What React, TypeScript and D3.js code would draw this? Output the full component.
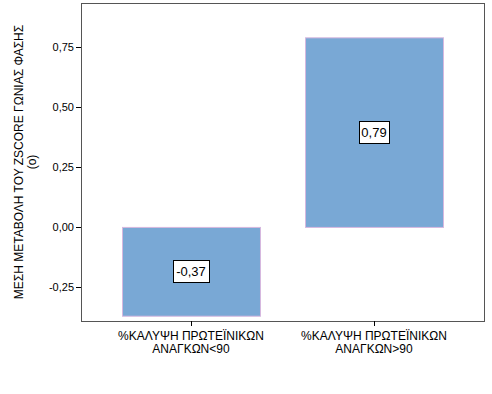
import React from "react";
import * as d3 from "d3";

const categories = ["%ΚΑΛΥΨΗ ΠΡΩΤΕΪΝΙΚΩΝ\nΑΝΑΓΚΩΝ<90", "%ΚΑΛΥΨΗ ΠΡΩΤΕΪΝΙΚΩΝ\nΑΝΑΓΚΩΝ>90"];
const values = [-0.37, 0.79];
const valueLabels = ["-0,37", "0,79"];
const yTicks = [-0.25, 0, 0.25, 0.5, 0.75];
const yTickLabels = ["-0,25", "0,00", "0,25", "0,50", "0,75"];
const yTitle = ["ΜΕΣΗ ΜΕΤΑΒΟΛΗ ΤΟΥ ZSCORE ΓΩΝΙΑΣ ΦΑΣΗΣ", "(o)"];

export default function App() {
  const W = 492, H = 394;
  const left = 81, right = 484, top = 3, bottom = 321;
  const y = d3.scaleLinear().domain([-0.392, 0.933]).range([bottom, top]);
  const x = d3.scaleBand<string>().domain(categories).range([left, right]).paddingInner(0.246).paddingOuter(0.224);
  const font = "Arial, 'Liberation Sans', sans-serif";
  return (
    <svg width={W} height={H} style={{ position: "absolute", left: 0, top: 0, background: "#fff" }} fontFamily={font}>
      <rect x={left + 0.5} y={top + 0.5} width={right - left} height={bottom - top} fill="none" stroke="#555" strokeWidth={1} />
      {categories.map((c, i) => {
        const v = values[i];
        const x0 = x(c)!;
        const y0 = y(Math.max(0, v));
        const y1 = y(Math.min(0, v));
        const cx = x0 + x.bandwidth() / 2;
        const cy = (y0 + y1) / 2;
        const tw = valueLabels[i].length * 6.4 + 4;
        return (
          <g key={c}>
            <rect x={x0 + 0.5} y={y0 + 0.5} width={x.bandwidth()} height={y1 - y0} fill="#79a8d5" stroke="#d6b8df" strokeWidth={1} />
            <rect x={Math.round(cx - tw / 2) + 0.5} y={Math.round(cy - 11) + 0.5} width={Math.round(tw)} height={22} fill="#fff" stroke="#000" strokeWidth={1} />
            <text x={cx} y={cy + 5} fontSize={13} textAnchor="middle" fill="#000">{valueLabels[i]}</text>
            <line x1={Math.round(cx) + 0.5} x2={Math.round(cx) + 0.5} y1={bottom} y2={bottom + 5} stroke="#000" />
            {c.split("\n").map((ln, j) => (
              <text key={j} x={cx} y={bottom + 19 + j * 13} fontSize={12} textAnchor="middle" fill="#000">{ln}</text>
            ))}
          </g>
        );
      })}
      {yTicks.map((t, i) => (
        <g key={t}>
          <line x1={left - 5} x2={left} y1={Math.round(y(t)) + 0.5} y2={Math.round(y(t)) + 0.5} stroke="#000" />
          <text x={left - 7} y={Math.round(y(t)) + 4} fontSize={11} textAnchor="end" fill="#000">{yTickLabels[i]}</text>
        </g>
      ))}
      {yTitle.map((ln, j) => (
        <text key={j} transform={`translate(${23 + j * 13},${(top + bottom) / 2}) rotate(-90)`} fontSize={12} textAnchor="middle" fill="#000">{ln}</text>
      ))}
    </svg>
  );
}
